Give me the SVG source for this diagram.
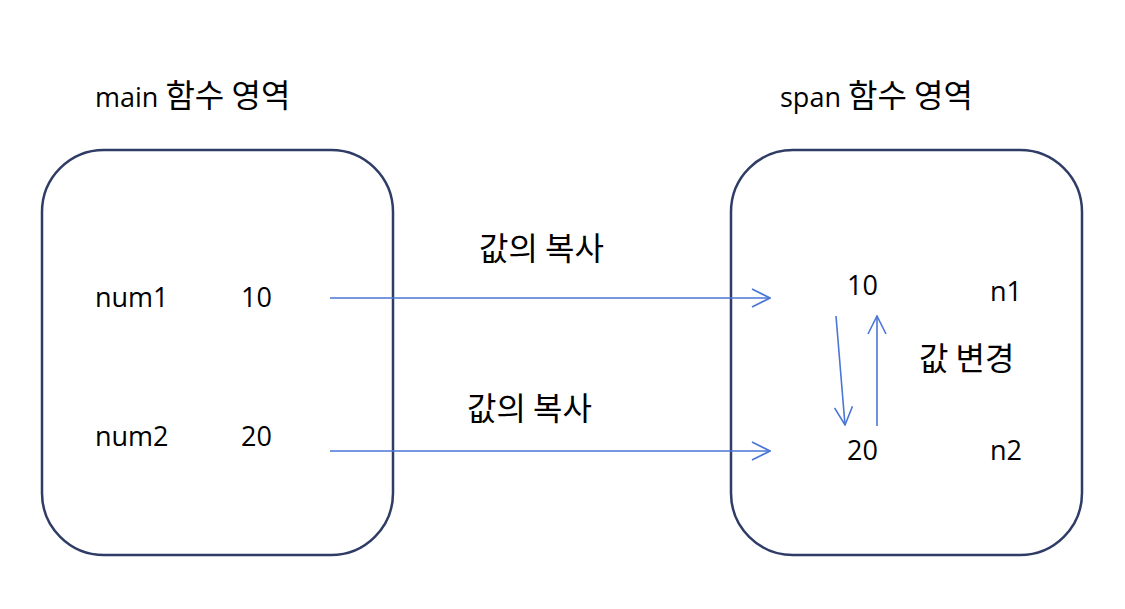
<svg xmlns="http://www.w3.org/2000/svg" width="1125" height="609" viewBox="0 0 1125 609">
<style>
.box{fill:#fff;stroke:#2f3d66;stroke-width:2.5}
.t{font-family:"Open Sans","Noto Sans CJK KR",sans-serif;font-size:27px;fill:#000}
.k{font-family:"Noto Sans CJK KR",sans-serif;font-size:32px}
.c{stroke:#4a76d6;stroke-width:1.6;fill:none}
</style>
<defs>
<marker id="b" viewBox="0 0 20 20" refX="19" refY="10" markerWidth="20" markerHeight="20" markerUnits="userSpaceOnUse" orient="auto">
<path d="M1,1 L19,10 L1,19" fill="none" stroke="#4a76d6" stroke-width="1.6"/>
</marker>
</defs>
<rect width="1125" height="609" fill="#fff"/>
<g id="main">
<rect class="box" x="42" y="150" width="351" height="405" rx="62"/>
<text class="t" x="95" y="107">main <tspan class="k">함수 영역</tspan></text>
<text class="t" x="95" y="307">num1</text>
<text class="t" x="241" y="307">10</text>
<text class="t" x="95" y="446">num2</text>
<text class="t" x="241" y="446">20</text>
</g>
<g id="span">
<rect class="box" x="731" y="150" width="351" height="405" rx="62"/>
<text class="t" x="780" y="107">span <tspan class="k">함수 영역</tspan></text>
<text class="t" x="847" y="295">10</text>
<text class="t" x="990" y="301">n1</text>
<text class="t" x="847" y="460">20</text>
<text class="t" x="990" y="460">n2</text>
</g>
<g id="labels">
<text class="t k" x="479" y="260">값의 복사</text>
<text class="t k" x="467" y="420">값의 복사</text>
<text class="t k" x="919" y="370">값 변경</text>
</g>
<g id="connectors">
<line class="c" x1="330" y1="298" x2="770" y2="298" marker-end="url(#b)"/>
<line class="c" x1="330" y1="451" x2="770" y2="451" marker-end="url(#b)"/>
<line class="c" x1="836" y1="316" x2="845" y2="425" marker-end="url(#b)"/>
<line class="c" x1="877" y1="426" x2="877" y2="316" marker-end="url(#b)"/>
</g>
</svg>
